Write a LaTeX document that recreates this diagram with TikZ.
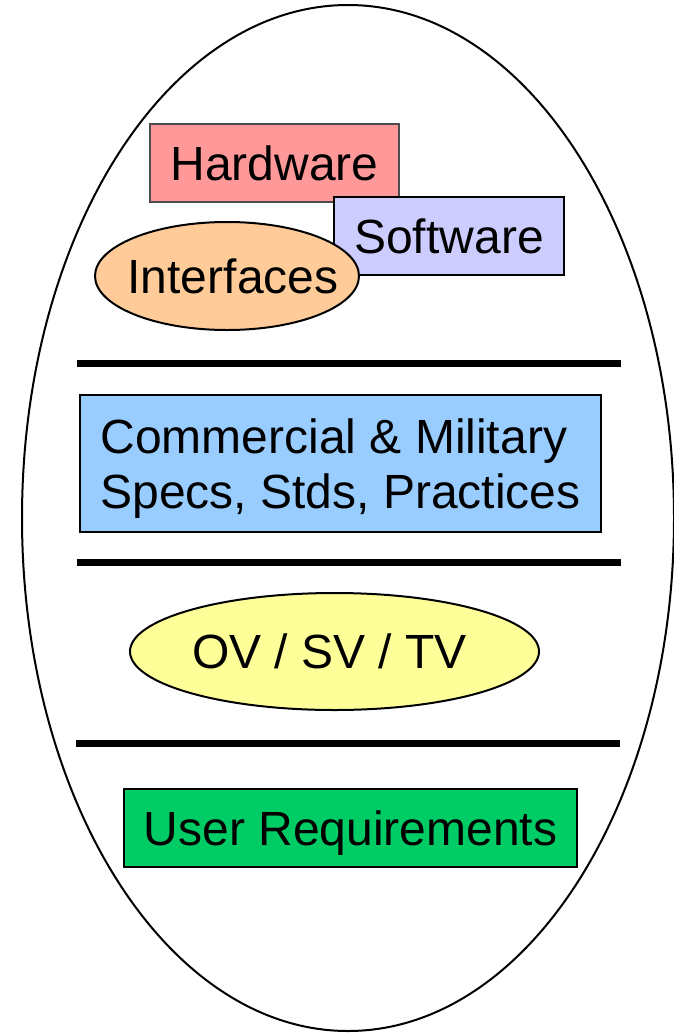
\documentclass[tikz,border=0pt]{standalone}
\usepackage{fontspec}
\setmainfont{Liberation Sans}
\usetikzlibrary{shapes.geometric}
\definecolor{hwred}{HTML}{FF9999}
\definecolor{swblue}{HTML}{CCCCFF}
\definecolor{ifpeach}{HTML}{FFCC99}
\definecolor{specblue}{HTML}{99CCFF}
\definecolor{viewyellow}{HTML}{FFFF99}
\definecolor{reqgreen}{HTML}{00CC66}
\begin{document}
\begin{tikzpicture}[x=1pt, y=-1pt,
    every node/.style={font=\fontsize{48}{55}\selectfont, inner sep=0pt},
    box/.style={draw, line width=2pt, rectangle},
    blob/.style={draw, line width=2pt, ellipse},
    divider/.style={line width=7pt}]
  \useasboundingbox (0, 0) rectangle (674, 1034);
  \node [blob, minimum width=652pt, minimum height=1026pt] (arch) at (348, 518) {};
  \node [box, draw=black!70, fill=hwred, minimum width=249pt, minimum height=78pt] (hw) at (274.5, 163) {Hardware};
  \node [box, fill=swblue, minimum width=230pt, minimum height=78pt] (sw) at (449, 236) {Software};
  \node [blob, fill=ifpeach, minimum width=264pt, minimum height=108pt] (intf) at (227, 276) {\makebox[0pt]{\hspace{12pt}Interfaces}};
  \draw [divider] (77, 363) -- (621, 363);
  \node [box, fill=specblue, align=left, text depth=0pt, minimum width=521pt, minimum height=137pt] (specs) at (340.5, 463.5) {Commercial \& Military\\Specs, Stds, Practices};
  \draw [divider] (77, 562) -- (621, 562);
  \node [blob, fill=viewyellow, minimum width=409pt, minimum height=117pt] (views) at (334.5, 651.5) {\makebox[0pt]{OV / SV / TV\hspace{10pt}}};
  \draw [divider] (76, 743) -- (620, 743);
  \node [box, fill=reqgreen, text depth=0pt, minimum width=453pt, minimum height=78pt] (req) at (350.5, 828) {User Requirements};
\end{tikzpicture}
\end{document}
